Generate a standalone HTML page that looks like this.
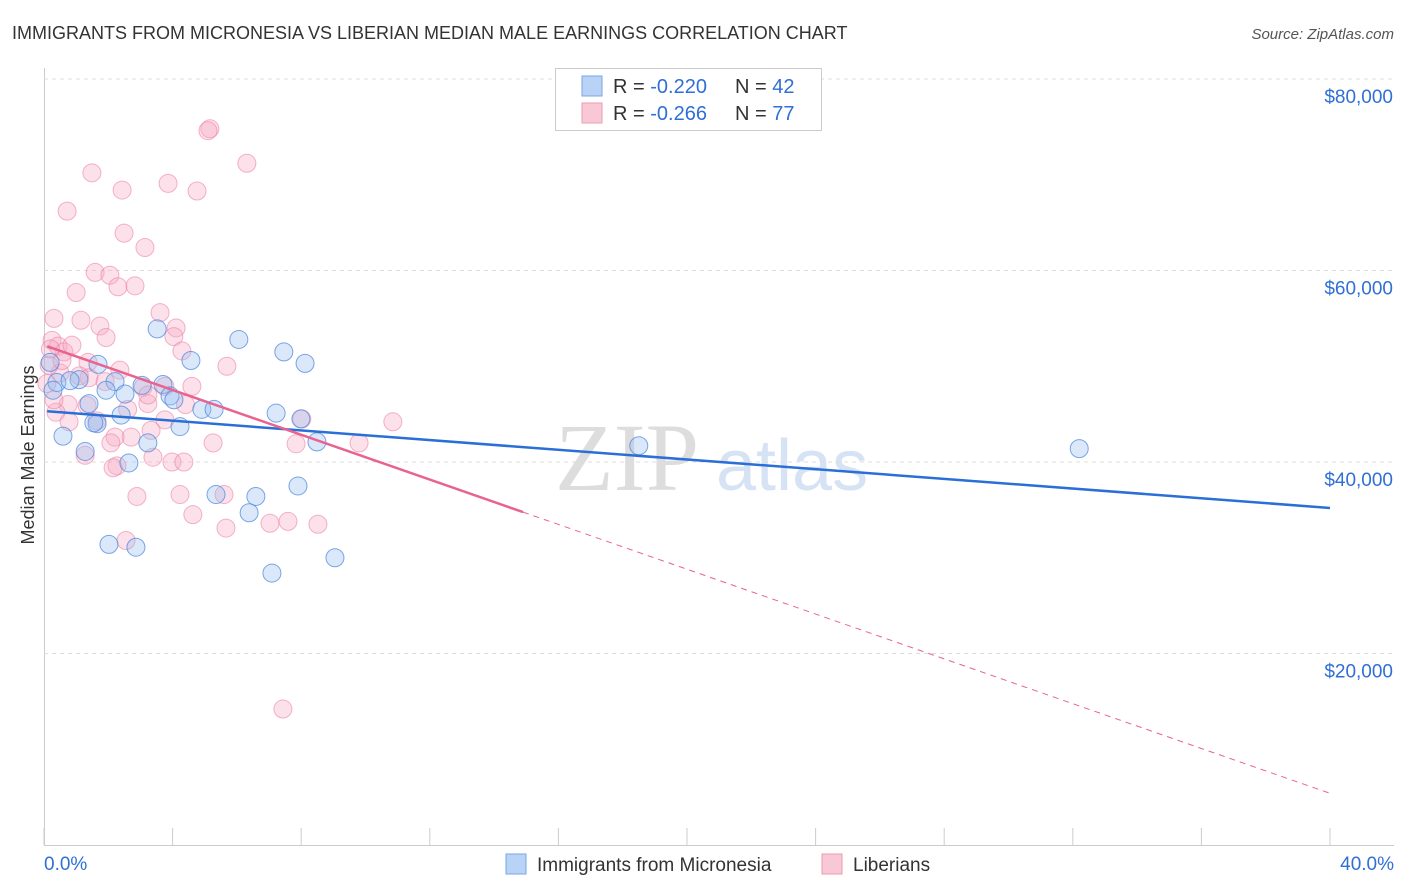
<!DOCTYPE html>
<html><head><meta charset="utf-8"><style>
body{margin:0;background:#fff;font-family:"Liberation Sans",sans-serif;}
#wrap{position:relative;width:1406px;height:892px;overflow:hidden;}
</style></head><body>
<div id="wrap">
<svg id="chart" width="1406" height="892">
<text x="12" y="39" font-size="18" fill="#333">IMMIGRANTS FROM MICRONESIA VS LIBERIAN MEDIAN MALE EARNINGS CORRELATION CHART</text>
<text x="1394" y="39" font-size="15" fill="#555" font-style="italic" text-anchor="end">Source: ZipAtlas.com</text>
<text x="34" y="455" font-size="18" fill="#333" text-anchor="middle" transform="rotate(-90 34 455)">Median Male Earnings</text>
<g>
<text x="555" y="490" font-size="96" fill="#ddd" font-family="Liberation Serif,serif">ZIP</text>
<text x="716" y="490" font-size="72" fill="#d6e3f5">atlas</text>
</g>
<g id="grid"></g><g id="marks"></g>
<g>
<rect x="555.5" y="68.5" width="266" height="62" fill="#fff" stroke="#ccc"/>
<rect x="582" y="76" width="20" height="20" fill="#b8d3f5" stroke="#7aa6e6"/>
<rect x="582" y="103" width="20" height="20" fill="#f9c8d7" stroke="#ef9ab3"/>
<text x="613" y="93" font-size="20" fill="#333">R = <tspan fill="#2f6fd6">-0.220</tspan></text>
<text x="735" y="93" font-size="20" fill="#333">N = <tspan fill="#2f6fd6">42</tspan></text>
<text x="613" y="120" font-size="20" fill="#333">R = <tspan fill="#2f6fd6">-0.266</tspan></text>
<text x="735" y="120" font-size="20" fill="#333">N = <tspan fill="#2f6fd6">77</tspan></text>
</g>
<g>
<rect x="506" y="854" width="20" height="20" fill="#b8d3f5" stroke="#7aa6e6"/>
<text x="537" y="871" font-size="19" fill="#333">Immigrants from Micronesia</text>
<rect x="822" y="854" width="20" height="20" fill="#f9c8d7" stroke="#ef9ab3"/>
<text x="853" y="871" font-size="19" fill="#333">Liberians</text>
</g>
</svg>
</div>
<script>
const yTicks=[20000,40000,60000,80000];
const yTickLabels=["$20,000","$40,000","$60,000","$80,000"];
const blueX=[3.52,6.06,7.46,8.12,4.57,1.68,2.21,3.70,0.40,1.09,0.28,1.93,2.52,3.05,3.92,4.04,1.40,4.91,5.29,7.22,2.40,7.99,1.65,4.23,0.59,3.23,8.49,1.28,18.5,32.2,2.64,7.90,5.35,6.59,6.38,2.02,2.86,9.05,7.09,0.19,0.81,1.55];
const blueY=[53.9,52.8,51.5,50.3,50.6,50.2,48.4,48.1,48.3,48.6,47.5,47.5,47.1,48.0,46.9,46.5,46.1,45.5,45.5,45.1,44.9,44.5,44.0,43.7,42.7,42.0,42.1,41.1,41.7,41.4,39.9,37.5,36.6,36.4,34.7,31.4,31.1,30.0,28.4,50.4,48.5,44.1];
const pinkX=[5.16,5.1,6.31,1.49,3.86,4.76,2.43,0.72,2.49,3.14,1.59,2.05,2.3,2.83,1.0,0.31,3.61,1.15,1.74,4.11,1.93,4.04,0.25,0.44,0.62,4.29,1.37,5.69,0.5,2.36,1.4,1.9,4.6,3.08,3.23,0.75,1.34,0.37,3.76,10.85,8.02,1.65,0.78,2.71,3.33,2.21,2.08,5.26,7.84,9.8,1.28,3.39,3.98,4.35,2.27,2.15,2.89,4.23,5.6,4.63,5.66,7.03,7.59,8.52,2.55,7.43,0.09,0.16,0.87,0.56,0.31,3.76,4.4,3.23,0.2,1.1,2.6];
const pinkY=[74.8,74.6,71.2,70.2,69.1,68.3,68.4,66.2,63.9,62.4,59.8,59.5,58.3,58.4,57.7,55.0,55.6,54.8,54.2,54.0,53.0,53.1,52.7,52.1,51.5,51.6,50.4,50.0,49.3,49.6,48.8,48.4,47.9,47.8,46.1,46.0,45.9,45.2,44.4,44.2,44.5,44.3,44.2,42.6,43.3,42.6,42.0,42.0,41.9,42.0,40.7,40.5,40.0,40.0,39.6,39.4,36.4,36.6,36.6,34.5,33.1,33.6,33.8,33.5,31.8,14.2,48.2,50.1,52.2,50.6,46.5,47.9,46.0,47.0,51.8,49.0,45.5];
const blueTrend=[45.3,35.2];
const pinkTrend=[52.2,5.4];
const pinkSolidEnd=14.9;
const X=v=>44+v/40*1286;
const Y=v=>845-v/20000*191.5;
const NS="http://www.w3.org/2000/svg";
const grid=document.getElementById('grid'),marks=document.getElementById('marks');
function mk(tag,attrs,parent){const e=document.createElementNS(NS,tag);for(const k in attrs)e.setAttribute(k,attrs[k]);parent.appendChild(e);return e;}
let ax=mk('line',{x1:44.5,y1:68,x2:44.5,y2:845,stroke:'#ccc'},grid);


let bx=mk('line',{x1:44,y1:845.5,x2:1394,y2:845.5,stroke:'#ccc'},grid);


yTicks.forEach((t,i)=>{
 let g=mk('line',{x1:44,x2:1394,y1:Y(t),y2:Y(t),stroke:'#ddd','stroke-dasharray':'4,4'},grid);
 
 
 let l=mk('text',{x:1393,y:Y(t)+24,'font-size':19,fill:'#2f6fd6','text-anchor':'end'},grid);l.textContent=yTickLabels[i];
 
 
});
for(let i=0;i<=10;i++){let t=mk('line',{x1:X(i*4),x2:X(i*4),y1:828,y2:845,stroke:'#ccc'},grid);
 
 }
let xl=mk('text',{x:44,y:870,'font-size':19,fill:'#2f6fd6'},grid);xl.textContent='0.0%';


let xr=mk('text',{x:1394,y:870,'font-size':19,fill:'#2f6fd6','text-anchor':'end'},grid);xr.textContent='40.0%';


pinkX.forEach((x,i)=>{let c=mk('circle',{cx:X(x),cy:Y(pinkY[i]*1000),r:9,fill:'rgba(246,170,195,0.35)',stroke:'rgba(236,130,165,0.6)','stroke-width':1},marks);
 
 });
blueX.forEach((x,i)=>{let c=mk('circle',{cx:X(x),cy:Y(blueY[i]*1000),r:9,fill:'rgba(150,190,240,0.35)',stroke:'rgba(70,130,220,0.7)','stroke-width':1},marks);
 
 });
const pAt=x=>pinkTrend[0]+(pinkTrend[1]-pinkTrend[0])*x/40;
let bt=mk('line',{x1:X(0.1),y1:Y(blueTrend[0]*1000),x2:X(40),y2:Y(blueTrend[1]*1000),stroke:'#2a6fd6','stroke-width':2.5},marks);


let pt=mk('line',{x1:X(0.1),y1:Y(pAt(0.1)*1000),x2:X(pinkSolidEnd),y2:Y(pAt(pinkSolidEnd)*1000),stroke:'#e8638f','stroke-width':2.5},marks);


let pd=mk('line',{x1:X(pinkSolidEnd),y1:Y(pAt(pinkSolidEnd)*1000),x2:X(40),y2:Y(pinkTrend[1]*1000),stroke:'#e8638f','stroke-width':1,'stroke-dasharray':'6,5'},marks);


</script>
</body></html>
